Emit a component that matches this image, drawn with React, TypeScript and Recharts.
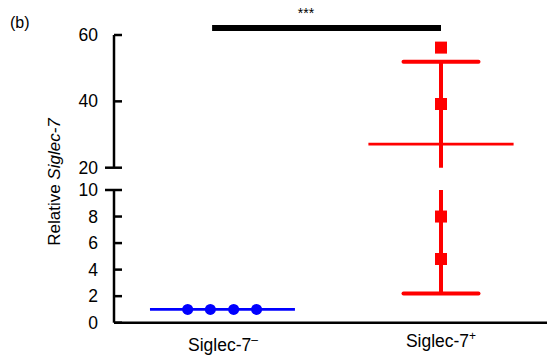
import { ComposedChart, Scatter, XAxis, YAxis, ReferenceLine } from 'recharts';

// groups on the x axis
const groupNames = ['Siglec-7', 'Siglec-7'];
const groupSigns = ['–', '+'];
const groupPos = [1, 2];

// individual samples
const negX = [0.838, 0.942, 1.049, 1.154];
const negY = [1.0, 1.0, 1.0, 1.0];
const posX = [2, 2, 2, 2];
const posY = [56.2, 39.2, 8.0, 4.8];

// mean and error bar
const negMean = 1.0;
const posMean = 27.1;
const posErrHigh = 51.9;
const posErrLow = 2.2;

// broken y axis segments
const upperDomain = [20, 60];
const lowerDomain = [0, 10];
const upperTicks = [20, 40, 60];
const lowerTicks = [0, 2, 4, 6, 8, 10];

// significance bracket
const sigFrom = 0.95;
const sigTo = 2.0;
const sigY = 62.1;
const sigText = '***';

const xDomain = [0.5, 2.5];
const FONT = '"Liberation Sans", Arial, Helvetica, sans-serif';
const BLUE = '#0000ff';
const RED = '#ff0000';

const negData = negX.map((x, i) => ({ x, y: negY[i] }));
const posData = posX.map((x, i) => ({ x, y: posY[i] }));

function YTick(props: any) {
  const { x, y, payload, breakValue } = props;
  const isBreak = payload.value === breakValue;
  return (
    <g>
      <line x1={isBreak ? x - 9 : x} x2={x + 8} y1={y} y2={y} stroke="#000" strokeWidth={2.5} />
      <text x={x - 16} y={y} textAnchor="end" dominantBaseline="central" fontSize={17.5} fontFamily={FONT} fill="#000">
        {payload.value}
      </text>
    </g>
  );
}

function XTick(props: any) {
  const { x, y, payload } = props;
  const i = groupPos.indexOf(payload.value);
  return (
    <text x={x} y={y + (i === 0 ? 28 : 24)} textAnchor="middle" fontSize={17.5} fontFamily={FONT} fill="#000">
      {groupNames[i]}
      <tspan fontSize={12} dy={-7}>{groupSigns[i]}</tspan>
    </text>
  );
}

const square = (p: any) => <rect x={p.cx - 6} y={p.cy - 6} width={12} height={12} fill={RED} />;
const dot = (p: any) => <circle cx={p.cx} cy={p.cy} r={5.5} fill={BLUE} />;

function marks(prefix: string) {
  return [
    <ReferenceLine key={prefix + 'nm'} segment={[{ x: 0.665, y: negMean }, { x: 1.33, y: negMean }]} stroke={BLUE} strokeWidth={2.7} ifOverflow="hidden" />,
    <ReferenceLine key={prefix + 'pv'} segment={[{ x: 2, y: posErrLow }, { x: 2, y: posErrHigh }]} stroke={RED} strokeWidth={4} ifOverflow="hidden" />,
    <ReferenceLine key={prefix + 'pm'} segment={[{ x: 1.667, y: posMean }, { x: 2.333, y: posMean }]} stroke={RED} strokeWidth={2.7} ifOverflow="hidden" />,
    <ReferenceLine key={prefix + 'ph'} segment={[{ x: 1.828, y: posErrHigh }, { x: 2.172, y: posErrHigh }]} stroke={RED} strokeWidth={4} strokeLinecap="round" ifOverflow="hidden" />,
    <ReferenceLine key={prefix + 'pl'} segment={[{ x: 1.828, y: posErrLow }, { x: 2.172, y: posErrLow }]} stroke={RED} strokeWidth={4} strokeLinecap="round" ifOverflow="hidden" />,
  ];
}

export default function App() {
  const inUpper = (d: { y: number }) => d.y >= upperDomain[0];
  const inLower = (d: { y: number }) => d.y <= lowerDomain[1];
  return (
    <div style={{ position: 'absolute', left: 0, top: 0, width: 547, height: 359, overflow: 'hidden', background: '#fff' }}>
      <div style={{ position: 'absolute', left: 0, top: 0 }}>
        <ComposedChart width={560} height={180} margin={{ top: 35, right: 10, bottom: 12.3, left: 74 }}>
          <XAxis type="number" dataKey="x" domain={xDomain} hide />
          <YAxis
            type="number"
            dataKey="y"
            domain={upperDomain}
            ticks={upperTicks}
            width={40}
            allowDataOverflow
            axisLine={{ stroke: '#000', strokeWidth: 2.5 }}
            tickLine={false}
            tickSize={0}
            tickMargin={0}
            tick={(p: any) => <YTick {...p} breakValue={upperDomain[0]} />}
          />
          {marks('u')}
          <ReferenceLine segment={[{ x: sigFrom, y: sigY }, { x: sigTo, y: sigY }]} stroke="#000" strokeWidth={6} ifOverflow="visible" />
          <Scatter data={negData.filter(inUpper)} shape={dot} isAnimationActive={false} />
          <Scatter data={posData.filter(inUpper)} shape={square} isAnimationActive={false} />
        </ComposedChart>
      </div>
      <div style={{ position: 'absolute', left: 0, top: 180 }}>
        <ComposedChart width={560} height={179} margin={{ top: 10, right: 10, bottom: 6.3, left: 74 }}>
          <XAxis
            type="number"
            dataKey="x"
            domain={xDomain}
            ticks={groupPos}
            height={30}
            axisLine={{ stroke: '#000', strokeWidth: 2.5 }}
            tickLine={false}
            tickSize={0}
            tickMargin={0}
            tick={(p: any) => <XTick {...p} />}
          />
          <YAxis
            type="number"
            dataKey="y"
            domain={lowerDomain}
            ticks={lowerTicks}
            width={40}
            allowDataOverflow
            axisLine={{ stroke: '#000', strokeWidth: 2.5 }}
            tickLine={false}
            tickSize={0}
            tickMargin={0}
            tick={(p: any) => <YTick {...p} breakValue={lowerDomain[1]} />}
          />
          {marks('l')}
          <Scatter data={negData.filter(inLower)} shape={dot} isAnimationActive={false} />
          <Scatter data={posData.filter(inLower)} shape={square} isAnimationActive={false} />
        </ComposedChart>
      </div>
      <svg width={547} height={359} style={{ position: 'absolute', left: 0, top: 0, pointerEvents: 'none' }}>
        <text x={10} y={28} fontSize={16} fontFamily={FONT} fill="#000">(b)</text>
        <text x={306} y={18} textAnchor="middle" fontSize={14} fontFamily={FONT} fill="#000">{sigText}</text>
        <text transform="translate(60, 182) rotate(-90)" textAnchor="middle" fontSize={17} fontFamily={FONT} fill="#000">
          Relative <tspan fontStyle="italic">Siglec-7</tspan>
        </text>
      </svg>
    </div>
  );
}
